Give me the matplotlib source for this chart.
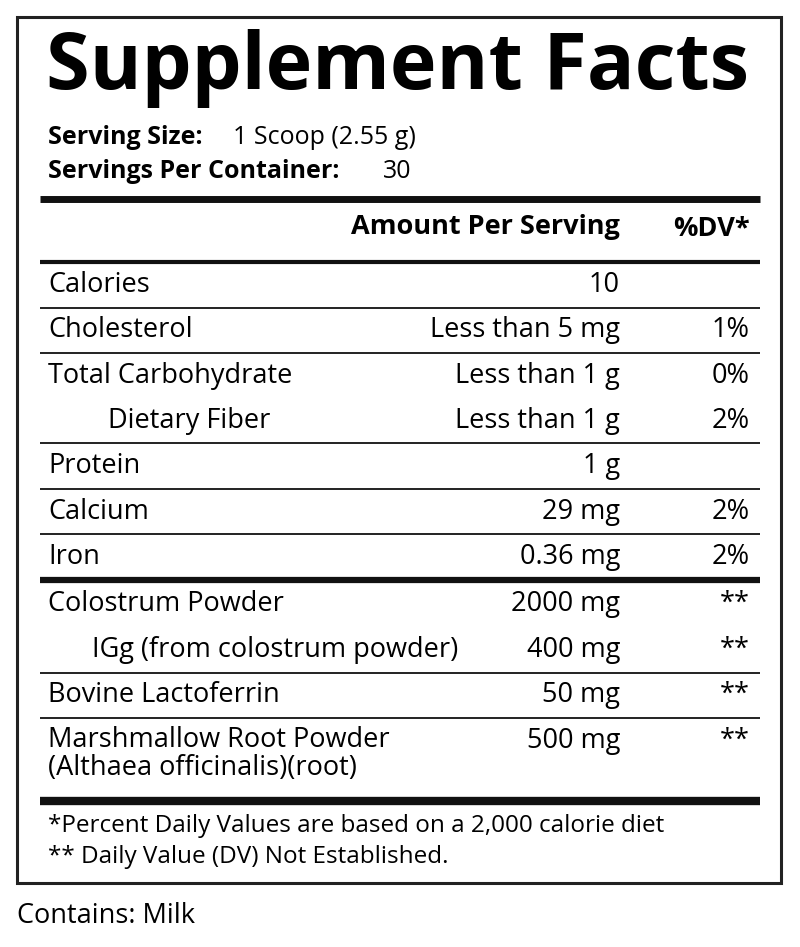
import matplotlib
matplotlib.use("Agg")
import matplotlib.pyplot as plt
from matplotlib.patches import Rectangle

title = "Supplement Facts"
serving_size = "1 Scoop (2.55 g)"
servings_per_container = "30"
nutrients = ["Calories", "Cholesterol", "Total Carbohydrate", "Dietary Fiber", "Protein",
             "Calcium", "Iron", "Colostrum Powder", "IGg (from colostrum powder)",
             "Bovine Lactoferrin", "Marshmallow Root Powder\n(Althaea officinalis)(root)"]
amounts = ["10", "Less than 5 mg", "Less than 1 g", "Less than 1 g", "1 g", "29 mg",
           "0.36 mg", "2000 mg", "400 mg", "50 mg", "500 mg"]
dvs = ["", "1%", "0%", "2%", "", "2%", "2%", "**", "**", "**", "**"]
indented = [False, False, False, True, False, False, False, False, True, False, False]
footnotes = ["*Percent Daily Values are based on a 2,000 calorie diet",
             "** Daily Value (DV) Not Established."]
contains = "Contains: Milk"

FONT = "Open Sans"
fig = plt.figure(figsize=(8, 9.47), dpi=100)
ax = fig.add_axes([0, 0, 1, 1])
ax.set_xlim(0, 800); ax.set_ylim(947, 0); ax.axis("off")

ax.add_patch(Rectangle((17, 17), 764, 866, fill=False, lw=2.2, ec="#222"))
ax.text(398, 68, title, fontsize=57, fontweight="bold", family=FONT, ha="center", va="center")
ax.text(48, 137, "Serving Size:", fontsize=18, fontweight="bold", family=FONT, va="center")
ax.text(233, 137, serving_size, fontsize=18, family=FONT, va="center")
ax.text(48, 171, "Servings Per Container:", fontsize=18, fontweight="bold", family=FONT, va="center")
ax.text(383, 171, servings_per_container, fontsize=18, family=FONT, va="center")

def hline(y, lw):
    ax.plot([40, 760], [y, y], color="#111", lw=lw, solid_capstyle="butt")

hline(199, 5)
ax.text(620, 227, "Amount Per Serving", fontsize=19.5, fontweight="bold", family=FONT, ha="right", va="center")
ax.text(750, 229, "%DV*", fontsize=19.5, fontweight="bold", family=FONT, ha="right", va="center")
hline(262, 3)

FS = 19.5
row_y = [285, 330, 376, 421, 466, 512, 557, 604, 650, 695, 741]
for name, amt, dv, ind, y in zip(nutrients, amounts, dvs, indented, row_y):
    x = 108 if (ind and name.startswith("Dietary")) else (92 if ind else 48)
    if "\n" in name:
        ax.text(x, y - 15, name, fontsize=FS, family=FONT, va="top", linespacing=1.0)
    else:
        ax.text(x, y, name, fontsize=FS, family=FONT, va="center")
    ax.text(620, y, amt, fontsize=FS, family=FONT, ha="right", va="center")
    ax.text(750, y, dv, fontsize=FS, family=FONT, ha="right", va="center")

for y in [308, 353, 443, 489, 534, 673, 718]:
    hline(y, 1.3)
hline(580, 4.5)
hline(801, 6)

ax.text(48, 826, footnotes[0], fontsize=17.5, family=FONT, va="center")
ax.text(48, 857, footnotes[1], fontsize=17.5, family=FONT, va="center")
ax.text(17, 916, contains, fontsize=19.5, family=FONT, va="center")

fig.savefig("out.png", dpi=100, facecolor="white")
